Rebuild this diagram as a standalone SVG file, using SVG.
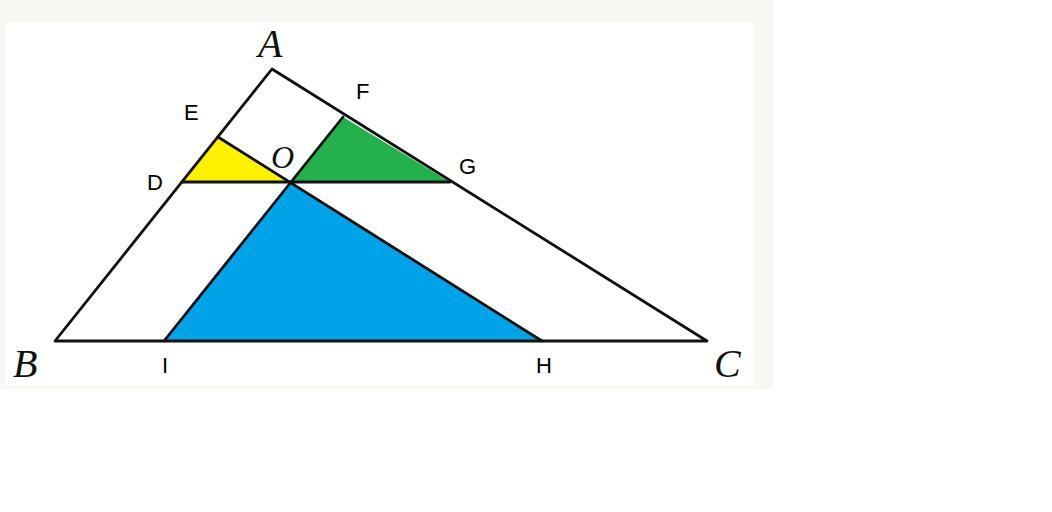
<svg xmlns="http://www.w3.org/2000/svg" width="1052" height="512" viewBox="0 0 1052 512">
<style>
.ln{stroke:#111;stroke-width:2.8;fill:none;stroke-linejoin:round;stroke-linecap:round}
.it{font-family:"Liberation Serif",serif;font-style:italic;fill:#111}
.lb{font-family:"Liberation Sans",Arial,sans-serif;font-size:22px;fill:#000}
</style>
<rect x="0" y="0" width="1052" height="512" fill="#fff"/>
<rect x="0" y="0" width="773" height="389" fill="#f7f8f4"/>
<rect x="5" y="23" width="749" height="363" fill="#fff"/>
<g id="fills">
<polygon points="182,182 218,137 290,182" fill="#fff200"/>
<polygon points="290,182 343,117 450,182" fill="#22b14c"/>
<polygon points="290,182 164,341 542,341" fill="#00a2e8"/>
</g>
<g id="connectors">
<polygon class="ln" points="272,69 55,341 707,341"/>
<line class="ln" x1="182" y1="182" x2="450" y2="182"/>
<line class="ln" x1="218" y1="137" x2="542" y2="341"/>
<line class="ln" x1="343" y1="117" x2="164" y2="341"/>
</g>
<g id="labels">
<text class="it" x="258" y="57" font-size="40">A</text>
<text class="it" x="13" y="377" font-size="40">B</text>
<text class="it" x="714" y="377" font-size="40">C</text>
<text class="it" x="271" y="168" font-size="32">O</text>
<text class="lb" x="184" y="120">E</text>
<text class="lb" x="356" y="99">F</text>
<text class="lb" x="147" y="190">D</text>
<text class="lb" x="459" y="174">G</text>
<text class="lb" x="162" y="373">I</text>
<text class="lb" x="536" y="373">H</text>
</g>
</svg>
